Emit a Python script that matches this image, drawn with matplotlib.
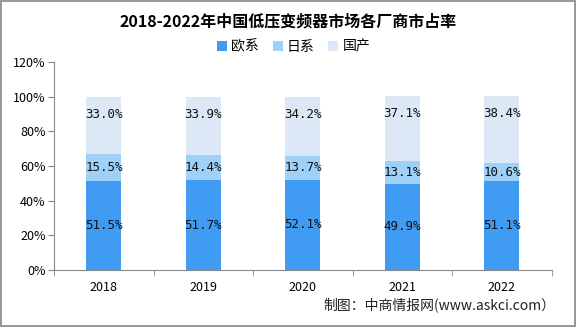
import numpy as np
import matplotlib.pyplot as plt
from matplotlib.ticker import FixedLocator, PercentFormatter

plt.rcParams['font.family'] = ['Noto Sans CJK SC', 'DejaVu Sans']

# 데이터
years = ['2018', '2019', '2020', '2021', '2022']
europe = [51.5, 51.7, 52.1, 49.9, 51.1]
japan = [15.5, 14.4, 13.7, 13.1, 10.6]
domestic = [33.0, 33.9, 34.2, 37.1, 38.4]
series_names = ['欧系', '日系', '国产']
colors = ['#3f9cf2', '#9fd0f8', '#dce8f6']

fig = plt.figure(figsize=(5.76, 3.27), dpi=100)
fig.patch.set_edgecolor('#999999')
fig.patch.set_linewidth(1.5)
ax = fig.add_axes([0.09375, 0.1743, 0.864, 0.6361])

x = np.arange(len(years))
bottom = np.zeros(len(years))
all_series = [europe, japan, domestic]
for k, (vals, name, col) in enumerate(zip(all_series, series_names, colors)):
    vals = np.array(vals)
    ax.bar(x, vals, width=0.35, bottom=bottom, color=col, label=name, zorder=2)
    for xi, b, v in zip(x, bottom, vals):
        # 맨 위 구간 라벨은 막대 위쪽에 가깝게
        ypos = b + v - 10 if k == len(all_series) - 1 else b + v / 2
        ax.text(xi, ypos, f'{v:.1f}%', ha='center', va='center',
                fontsize=9, family=['DejaVu Sans Mono'], color='#111111', zorder=3)
    bottom += vals

ax.set_xlim(-0.5, len(years) - 0.5)
ax.set_ylim(0, 120)
ax.set_yticks(np.arange(0, 121, 20))
ax.yaxis.set_major_formatter(PercentFormatter(decimals=0))
ax.set_xticks(x)
ax.set_xticklabels(years)
ax.xaxis.set_minor_locator(FixedLocator(np.arange(-0.5, len(years), 1)))
ax.tick_params(axis='x', which='major', length=0, pad=8, labelsize=9)
ax.tick_params(axis='x', which='minor', length=4, color='#888888')
ax.tick_params(axis='y', length=4, color='#888888', labelsize=9, pad=2)

for s in ['top', 'right']:
    ax.spines[s].set_visible(False)
for s in ['left', 'bottom']:
    ax.spines[s].set_color('#888888')

fig.text(0.5, 0.935, '2018-2022年中国低压变频器市场各厂商市占率', ha='center', va='center',
         fontsize=11.5, fontweight='bold')
fig.legend(loc='center', bbox_to_anchor=(0.51, 0.857), ncol=3, frameon=False,
           fontsize=10, handlelength=0.7, handleheight=0.7, handletextpad=0.3,
           columnspacing=1.0)
fig.text(0.965, 0.068, '制图：中商情报网(www.askci.com）', ha='right', va='center',
         fontsize=10, color='#222222')

plt.savefig('out.png', dpi=100)
